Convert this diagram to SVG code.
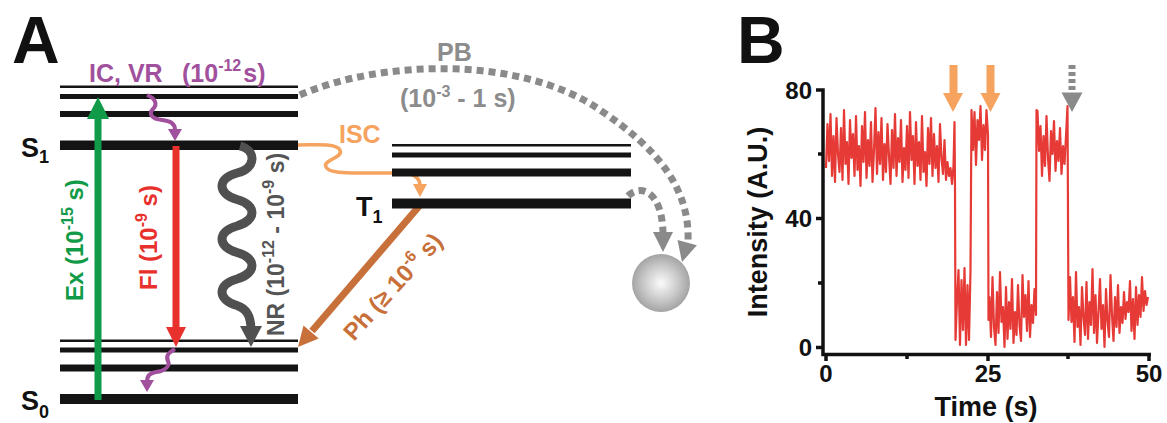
<svg xmlns="http://www.w3.org/2000/svg" width="1167" height="423" viewBox="0 0 1167 423">
  <style>
    text { font-family: "Liberation Sans", Arial, sans-serif; font-weight: bold; }
    .lvl { fill: #141414; }
    .sup { font-size: 16px; }
    .big { font-size: 66px; fill: #111; }
    .state { font-size: 27px; fill: #111; }
    .sub { font-size: 18px; }
    .pb { fill: none; stroke: #8a8a8a; stroke-width: 7; stroke-dasharray: 7 5; }
    .tick { font-size: 24px; fill: #111; }
    .axis { stroke: #111; stroke-width: 3.5; fill: none; }
  </style>
  <defs>
    <radialGradient id="ball" cx="50%" cy="50%" r="50%">
      <stop offset="0" stop-color="#fbfbfb"/>
      <stop offset="0.55" stop-color="#cdcdcd"/>
      <stop offset="1" stop-color="#a4a4a4"/>
    </radialGradient>
  </defs>

  <!-- panel letters -->
  <text class="big" x="12" y="63">A</text>
  <text class="big" x="737" y="63">B</text>

  <!-- singlet excited manifold -->
  <g id="S1">
    <rect class="lvl" x="60" y="85.5" width="238" height="2.5"/>
    <rect class="lvl" x="60" y="94" width="238" height="5"/>
    <rect class="lvl" x="60" y="111" width="238" height="6"/>
    <rect class="lvl" x="60" y="140.5" width="238" height="9.5"/>
    <text class="state" x="21" y="157">S<tspan class="sub" dy="6">1</tspan></text>
  </g>

  <!-- ground state manifold -->
  <g id="S0">
    <rect class="lvl" x="60" y="339.5" width="238" height="2.5"/>
    <rect class="lvl" x="60" y="347.5" width="238" height="5"/>
    <rect class="lvl" x="60" y="364.5" width="238" height="7"/>
    <rect class="lvl" x="60" y="394" width="238" height="10"/>
    <text class="state" x="21" y="410">S<tspan class="sub" dy="8">0</tspan></text>
  </g>

  <!-- transitions -->
  <g id="connectors">
    <!-- excitation -->
    <line x1="98" y1="400" x2="98" y2="117" stroke="#119a47" stroke-width="7"/>
    <polygon points="87,119 109,119 98,97" fill="#119a47"/>
    <text font-size="24" fill="#119a47" transform="translate(83,301) rotate(-90)">Ex (10<tspan class="sup" dy="-10">-15</tspan><tspan dy="10"> s)</tspan></text>

    <!-- fluorescence -->
    <line x1="176" y1="146" x2="176" y2="330" stroke="#e8302c" stroke-width="7"/>
    <polygon points="166,327 186,327 176,347" fill="#e8302c"/>
    <text font-size="24" fill="#e8302c" transform="translate(157,290) rotate(-90)">Fl (10<tspan class="sup" dy="-10">-9</tspan><tspan dy="10"> s)</tspan></text>

    <!-- internal conversion / vibrational relaxation -->
    <path d="M147,95 C155,98 158,104 153,109 C148,114 152,119 162,120 C170,121 175,123 175,130" fill="none" stroke="#a0509c" stroke-width="4"/>
    <polygon points="168,129 182,129 175,141" fill="#a0509c"/>
    <path d="M175,349 C170,352 165,355 168,361 C171,367 162,372 156,372 C150,373 147,376 147,381" fill="none" stroke="#a0509c" stroke-width="4"/>
    <polygon points="140,380 154,380 147,392" fill="#a0509c"/>
    <text font-size="25" fill="#a0509c" x="89" y="82">IC, VR<tspan x="182">(10</tspan><tspan class="sup" dy="-11">-12</tspan><tspan dx="2" dy="11">s)</tspan></text>

    <!-- non-radiative decay -->
    <path d="M240,146 C256,150 257,168 237,173 C217,178 217,194 237,199.5 C257,205 257,220 237,226 C217,231 217,247 237,252.5 C257,258 257,273 237,279 C217,284 217,300 237,305.5 C248,309 251,318 251,330" fill="none" stroke="#505050" stroke-width="9"/>
    <polygon points="240,326 262,326 251,347" fill="#505050"/>
    <text font-size="23" fill="#555" transform="translate(284,336) rotate(-90)">NR (10<tspan class="sup" dy="-10">-12</tspan><tspan dy="10"> - 10</tspan><tspan class="sup" dy="-10">-9</tspan><tspan dy="10"> s)</tspan></text>

    <!-- intersystem crossing -->
    <path d="M298,145 C318,145 336,143 340,150 C344,158 322,160 326,167 C329,173 345,173 360,173 L400,173 C412,173 420,177 420,186" fill="none" stroke="#f5a35f" stroke-width="3.5"/>
    <polygon points="413,184 427,184 420,197" fill="#f5a35f"/>
    <text font-size="25" fill="#f5a35f" x="339" y="143">ISC</text>

    <!-- phosphorescence -->
    <line x1="421" y1="204" x2="312" y2="331" stroke="#c8703a" stroke-width="7"/>
    <polygon points="318.7,338.4 303.5,325.4 298,347" fill="#c8703a"/>
    <text font-size="24" fill="#c8703a" transform="translate(354,342) rotate(-48)">Ph (≥ 10<tspan class="sup" dy="-10">-6</tspan><tspan dy="10"> s)</tspan></text>

    <!-- photobleaching -->
    <path class="pb" d="M300,95 C380,60 520,55 600,110 C660,150 690,190 688,242"/>
    <polygon points="696.9,245.3 677.5,240.1 682,262" fill="#8a8a8a"/>
    <path class="pb" d="M628,196 C640,184 662,190 663,233"/>
    <polygon points="653,232 673,232 663,252" fill="#8a8a8a"/>
    <text font-size="25" fill="#8c8c8c" x="437" y="61">PB</text>
    <text font-size="25" fill="#8c8c8c" x="400" y="107">(10<tspan class="sup" dy="-10">-3</tspan><tspan dy="10"> - 1 s)</tspan></text>
  </g>

  <!-- triplet manifold -->
  <g id="T1">
    <rect class="lvl" x="392" y="144" width="239" height="2.5"/>
    <rect class="lvl" x="392" y="152.5" width="239" height="5"/>
    <rect class="lvl" x="392" y="168.5" width="239" height="8"/>
    <rect class="lvl" x="392" y="198.5" width="239" height="10"/>
    <text class="state" x="356" y="216">T<tspan class="sub" dy="7">1</tspan></text>
  </g>

  <!-- bleached molecule -->
  <g id="bleached">
    <circle cx="661" cy="283" r="29" fill="url(#ball)"/>
  </g>

  <!-- intensity trace -->
  <g id="plot">
    <polyline fill="none" stroke="#e53a35" stroke-width="2.2" stroke-linejoin="round" points="826,168 827.5,124 829,161 830.5,114 832,176 833.5,136 835,182 836.5,118 838,154 839.5,172 841,128 842.5,180 844,110 845.5,164 847,142 848.5,184 850,120 851.5,158 853,134 854.5,176 856,116 857.5,170 859,146 860.5,186 862,126 863.5,162 865,112 866.5,178 868,140 869.5,166 871,122 872.5,182 874,150 875.5,108 877,174 878.5,132 880,164 881.5,118 883,180 884.5,144 886,172 887.5,124 889,156 890.5,184 892,130 893.5,168 895,114 896.5,176 898,138 899.5,162 901,120 902.5,182 904,148 905.5,170 907,126 908.5,178 910,112 911.5,160 913,136 914.5,184 916,122 917.5,166 919,142 920.5,180 922,116 923.5,172 925,152 926.5,186 928,128 929.5,164 931,118 932.5,176 934,134 935.5,168 937,146 938.5,182 940,124 941.5,158 943,174 944.5,140 946,180 947.5,162 949,176 950.5,168 952,184 953.5,166 954.5,122 955,186 955.5,340 957,300 958.5,270 960,345 961.5,280 963,330 964.5,268 966,345 967.5,285 969,340 970.5,270 971.5,110 973,150 974.5,112 976,165 977.5,120 979,140 980.5,106 982,160 983.5,125 985,150 986.5,110 988,135 988.5,320 989.5,297 991,337 992.5,277 994,327 995.5,345 997,292 998.5,333 1000,272 1001.5,322 1003,307 1004.5,347 1006,287 1007.5,339 1009,302 1010.5,329 1012,279 1013.5,343 1015,312 1016.5,335 1018,285 1019.5,325 1021,341 1022.5,275 1024,317 1025.5,295 1027,331 1028.5,281 1030,337 1031.5,305 1033,323 1034.5,289 1036,315 1036.5,110 1037.5,111 1039,151 1040.5,126 1042,176 1043.5,136 1045,166 1046.5,116 1048,158 1049.5,181 1051,131 1052.5,154 1054,121 1055.5,171 1057,141 1058.5,161 1060,128 1061.5,174 1063,146 1064.5,164 1066,136 1067.5,106 1068.5,320 1070,277 1071.5,322 1073,297 1074.5,342 1076,272 1077.5,327 1079,307 1080.5,345 1082,287 1083.5,317 1085,335 1086.5,282 1088,339 1089.5,302 1091,325 1092.5,269 1094,333 1095.5,295 1097,343 1098.5,312 1100,279 1101.5,329 1103,305 1104.5,347 1106,289 1107.5,321 1109,337 1110.5,275 1112,315 1113.5,341 1115,297 1116.5,327 1118,285 1119.5,333 1121,307 1122.5,323 1124,292 1125.5,319 1127,302 1128.5,312 1130,281 1131.5,331 1133,299 1134.5,339 1136,287 1137.5,325 1139,295 1140.5,317 1142,277 1143.5,311 1145,291 1146.5,305 1148,297"/>

    <!-- axes -->
    <path class="axis" d="M816,90 L823,90 L823,354.5 L1151,354.5"/>
    <line class="axis" x1="816" y1="218.5" x2="823" y2="218.5"/>
    <line class="axis" x1="816" y1="347.5" x2="823" y2="347.5"/>
    <line class="axis" x1="818" y1="154" x2="823" y2="154"/>
    <line class="axis" x1="818" y1="283" x2="823" y2="283"/>
    <line class="axis" x1="826" y1="354" x2="826" y2="361"/>
    <line class="axis" x1="907" y1="354" x2="907" y2="359"/>
    <line class="axis" x1="988" y1="354" x2="988" y2="361"/>
    <line class="axis" x1="1068" y1="354" x2="1068" y2="359"/>
    <line class="axis" x1="1149" y1="354" x2="1149" y2="361"/>

    <text class="tick" x="812" y="99" text-anchor="end">80</text>
    <text class="tick" x="812" y="227" text-anchor="end">40</text>
    <text class="tick" x="812" y="356" text-anchor="end">0</text>
    <text class="tick" x="826" y="382" text-anchor="middle">0</text>
    <text class="tick" x="988" y="382" text-anchor="middle">25</text>
    <text class="tick" x="1149" y="382" text-anchor="middle">50</text>
    <text font-size="27" fill="#111" x="986" y="416" text-anchor="middle">Time (s)</text>
    <text font-size="27" fill="#111" text-anchor="middle" transform="translate(767,222) rotate(-90)">Intensity (A.U.)</text>

    <!-- event markers -->
    <rect x="949.5" y="65" width="8" height="29" fill="#f5a35f"/>
    <polygon points="943,93 963,93 953,112" fill="#f5a35f"/>
    <rect x="986.5" y="65" width="8" height="29" fill="#f5a35f"/>
    <polygon points="980.5,93 1000.5,93 990.5,112" fill="#f5a35f"/>
    <line x1="1072" y1="65" x2="1072" y2="93" stroke="#8a8a8a" stroke-width="7" stroke-dasharray="4 3"/>
    <polygon points="1061.5,92.5 1082.5,92.5 1072,112" fill="#8a8a8a"/>
  </g>
</svg>
